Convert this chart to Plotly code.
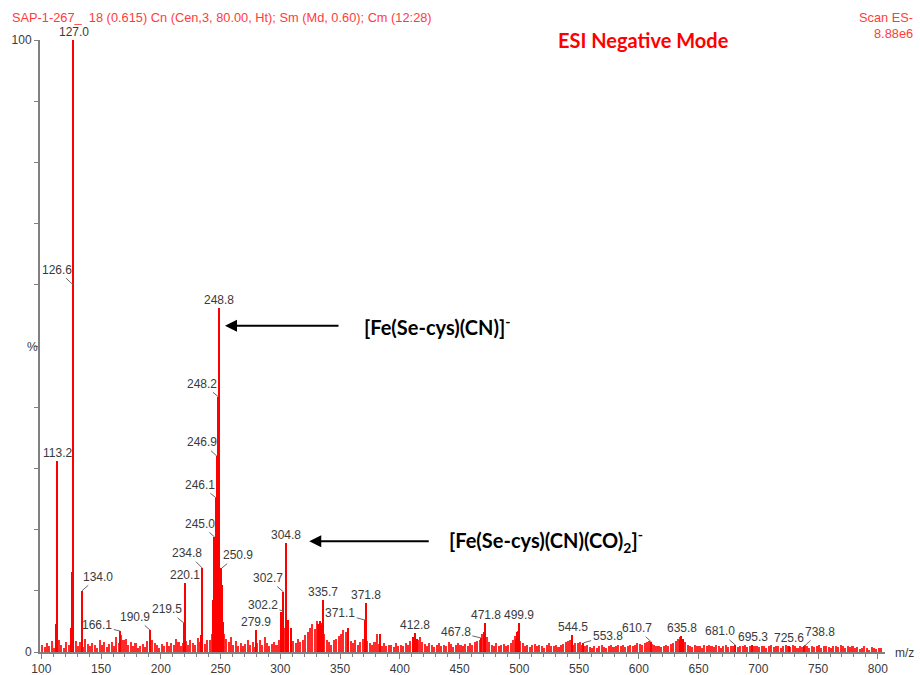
import numpy as np
import plotly.graph_objects as go

# ---------------- data ----------------
# labelled peaks (m/z, relative intensity %)
label_mz = [127.0, 126.6, 113.2, 134.0, 166.1, 190.9, 219.5, 220.1, 234.8, 245.0,
            246.1, 246.9, 248.2, 248.8, 250.9, 279.9, 302.2, 302.7, 304.8, 335.7,
            371.1, 371.8, 412.8, 467.8, 471.8, 499.9, 544.5, 553.8, 610.7, 635.8,
            681.0, 695.3, 725.6, 738.8]
label_int = [100.0, 60.0, 31.2, 10.0, 3.4, 3.6, 4.7, 11.3, 13.7, 18.8,
             25.2, 32.0, 41.7, 56.2, 13.7, 3.6, 6.7, 9.8, 17.8, 8.5,
             5.2, 8.0, 3.1, 2.3, 4.7, 4.7, 2.8, 1.5, 1.6, 2.6,
             1.1, 1.1, 1.0, 1.0]

# other visible (unlabelled) peaks
extra_mz = [112.8, 125.6, 124.8, 233.6, 243.7, 244.4, 249.4, 250.0, 251.6, 252.5,
            300.9, 306.4, 308.8, 331.5, 333.2, 334.4, 357.2, 383.5, 411.6, 414.2,
            470.6, 498.6, 497.3, 634.5, 636.8]
extra_int = [4.5, 13.0, 4.0, 2.7, 8.5, 6.5, 12.8, 12.5, 11.0, 4.9,
             6.5, 5.2, 4.0, 4.6, 5.0, 4.4, 3.9, 2.9, 2.4, 2.2,
             3.2, 3.2, 2.2, 2.0, 2.2]

# background noise, one value every 2 m/z from 101 to 803
noise_start, noise_step = 101, 2
noise_int = [
    1.2, 0.8, 1.5, 1.0, 1.8, 0.6, 1.3, 2.0, 1.1, 0.7, 1.6, 1.2, 0.9,
    1.4, 1.8, 1.0, 1.6, 0.8, 2.2, 1.3, 0.9, 1.5, 1.1, 0.7, 1.9,
    1.2, 1.6, 0.8, 1.3, 1.7, 1.0, 2.4, 1.5, 2.8, 1.9, 2.2, 1.1, 1.6,
    1.0, 1.5, 0.6, 0.9, 1.3, 0.8, 1.8, 1.2, 2.0, 1.4, 1.1, 0.7,
    1.3, 1.0, 1.7, 0.9, 1.5, 1.2, 2.1, 1.6, 1.0, 1.4, 1.8, 1.1, 2.0,
    1.5, 1.2, 2.3, 1.6, 1.9, 1.3, 2.0,
    2.0, 3.0, 4.0, 5.0, 6.0, 4.5, 3.0, 2.2, 1.6, 2.4,
    1.2, 1.8, 1.0, 1.5, 0.9, 1.3, 2.0, 1.1, 1.6, 0.8, 1.4, 1.9, 1.2, 2.4, 1.5, 1.0, 1.3, 1.7, 1.1, 2.0,
    3.0, 4.0, 2.5, 3.5, 2.0,
    1.8, 1.5, 2.2, 1.6, 2.0, 2.8, 3.2, 4.0, 4.5, 3.8, 5.0, 4.2, 4.8, 3.0, 2.0,
    1.6, 1.2, 1.9, 2.1, 2.6, 3.0, 3.6, 3.2, 2.4, 1.8, 1.5, 1.9, 1.2, 1.6, 2.2,
    2.4, 1.8, 1.4, 1.2, 1.6, 2.9, 1.3, 1.0, 1.5, 0.9, 1.2, 1.1, 0.8, 1.4, 1.0,
    1.2, 0.9, 1.4, 1.1, 1.8, 2.2, 2.6, 2.0, 2.4, 1.6, 1.3, 1.0, 1.5, 1.1, 0.8,
    1.1, 1.4, 0.9, 1.2, 1.0, 1.6, 1.3, 0.8, 1.1, 1.5, 1.2, 0.9, 1.3, 1.0, 1.4, 1.2, 1.6, 1.8, 2.0, 3.0,
    3.2, 2.4, 1.6, 1.2, 1.0, 1.4, 0.9, 1.1, 1.3, 1.0, 1.2, 1.5, 2.0, 2.6, 3.4,
    1.8, 1.4, 1.0, 1.2, 0.8, 1.1, 1.3, 0.9, 1.2, 1.0, 0.7, 1.1, 1.4, 0.9, 1.0, 1.2, 0.8, 1.1, 1.3, 1.6,
    1.8, 2.0, 1.2, 1.5, 1.4, 1.6, 1.2, 0.9, 1.1, 0.8, 0.6, 1.0, 0.7, 0.9, 1.2, 0.8, 0.6, 0.9, 1.1, 0.8,
    1.0, 1.2, 0.9, 1.1, 0.8, 1.0, 1.2, 0.9, 1.1, 1.4, 1.3, 1.1, 1.5, 1.6, 1.8, 1.3, 1.1, 0.9, 1.0, 0.8,
    0.9, 1.2, 1.0, 1.3, 1.5, 1.8, 2.2, 2.4, 2.0, 1.6, 1.2, 1.0, 0.8, 1.1, 0.9, 1.0, 0.7, 1.2, 0.9, 1.1,
    1.0, 0.8, 1.1, 0.9, 0.7, 1.0, 1.2, 0.8, 1.0, 0.9, 1.1, 0.8, 0.9, 1.0, 1.2, 0.8, 1.0, 0.7, 0.9, 1.0,
    0.8, 1.0, 0.9, 0.7, 1.0, 1.1, 0.8, 0.9, 1.0, 0.7, 0.9, 1.1, 1.0, 0.8, 1.2, 0.9, 0.7, 1.0, 0.8, 1.1,
    0.9, 0.7, 1.0, 0.8, 0.9, 1.1, 0.7, 1.0, 0.9, 0.8, 0.6, 0.9, 1.0, 0.8, 1.1, 0.9, 0.7, 1.0, 0.8, 0.9,
    0.6, 0.8, 0.5, 0.7, 0.9, 0.6, 0.4, 0.8, 0.6, 0.5, 0.7, 0.6,
]
noise_mz = noise_start + noise_step * np.arange(len(noise_int))

x_ticks = [100, 150, 200, 250, 300, 350, 400, 450, 500, 550, 600, 650, 700, 750, 800]
y_ticks = [0, 100]

header_text = "SAP-1-267_  18 (0.615) Cn (Cen,3, 80.00, Ht); Sm (Md, 0.60); Cm (12:28)"
mode_text = "ESI Negative Mode"
ion1_text = "[Fe(Se-cys)(CN)]<sup>-</sup>"
ion2_text = "[Fe(Se-cys)(CN)(CO)<sub>2</sub>]<sup>-</sup>"
ion1_tip = (253.7, 53.3)
ion2_tip = (324.2, 18.1)

# label leader-line offsets in pixels (None = label right above the peak)
offsets = {
    126.6: (-16, -15), 134.0: (16, -14), 166.1: (-23, -6), 190.9: (-15, -13),
    219.5: (-17, -14), 234.8: (-15, -15), 245.0: (-15, -13), 246.1: (-16, -13),
    246.9: (-15, -14), 248.2: (-16, -13), 250.9: (16, -13), 302.2: (-20, -6),
    302.7: (-16, -14), 371.1: (-25, -7), 467.8: (-25, -6), 553.8: (24, -7),
    610.7: (-15, -14), 681.0: (-16, -14), 738.8: (15, -14),
}

RED = "#ff0000"
TXT = "#3a3a3a"
AXC = "#808080"
FONT = "Liberation Sans, Arial, sans-serif"
BOLD = "Lato, Open Sans, sans-serif"

W, H = 920, 675
ml, mr, mt, mb = 40, 35, 40, 23
pw, ph = W - ml - mr, H - mt - mb

fig = go.Figure()
fig.add_trace(go.Bar(x=noise_mz, y=noise_int, width=1.3, marker=dict(color="#ff2a2a", line_width=0),
                     hoverinfo="skip"))
fig.add_trace(go.Bar(x=extra_mz, y=extra_int, width=1.2, marker=dict(color=RED, line_width=0)))
fig.add_trace(go.Bar(x=label_mz, y=label_int, width=1.3, marker=dict(color=RED, line_width=0)))

for mz, it in zip(label_mz, label_int):
    txt = f"{mz:.1f}"
    if mz in offsets:
        ax, ay = offsets[mz]
        fig.add_annotation(x=mz, y=it, xref="x", yref="y", text=txt, showarrow=True,
                           arrowhead=0, arrowwidth=1, arrowcolor="#666666", ax=ax, ay=ay,
                           standoff=0, font=dict(family=FONT, size=12, color=TXT))
    else:
        fig.add_annotation(x=mz, y=it, xref="x", yref="y", text=txt, showarrow=False,
                           yanchor="bottom", xanchor="center", yshift=-1,
                           font=dict(family=FONT, size=12, color=TXT))

# ion labels with black arrows pointing at the peaks
fig.add_annotation(x=ion1_tip[0], y=ion1_tip[1], xref="x", yref="y", text=ion1_text, showarrow=True,
                   arrowhead=2, arrowsize=1.2, arrowwidth=2, arrowcolor="black", ax=212, ay=0,
                   startstandoff=24, font=dict(family=BOLD, size=20, color="black", weight="bold"))
fig.add_annotation(x=ion2_tip[0], y=ion2_tip[1], xref="x", yref="y", text=ion2_text, showarrow=True,
                   arrowhead=2, arrowsize=1.2, arrowwidth=2, arrowcolor="black", ax=237, ay=0,
                   startstandoff=19, font=dict(family=BOLD, size=20, color="black", weight="bold"))


def pap(X, Y):
    # page pixel -> paper coords of plot area
    return (X - ml) / pw, 1 - (Y - mt) / ph


extra = [
    (10, 18, header_text, "left", dict(family=FONT, size=12.8, color="#ff3c3c")),
    (915, 18, "Scan ES-", "right", dict(family=FONT, size=12.8, color="#ff3c3c")),
    (915, 33, "8.88e6", "right", dict(family=FONT, size=12.8, color="#ff3c3c")),
    (643, 40, mode_text, "center", dict(family=BOLD, size=20, color="#ff0000", weight="bold")),
    (32, 347, "%", "center", dict(family=FONT, size=12, color=TXT)),
    (905, 653, "m/z", "center", dict(family=FONT, size=12, color=TXT)),
]
for X, Y, t, xa, f in extra:
    xx, yy = pap(X, Y)
    fig.add_annotation(x=xx, y=yy, xref="paper", yref="paper", text=t, showarrow=False,
                       xanchor=xa, yanchor="middle", font=f)

fig.update_layout(
    width=W, height=H,
    margin=dict(l=ml, r=mr, t=mt, b=mb),
    paper_bgcolor="white", plot_bgcolor="white",
    barmode="overlay", showlegend=False, bargap=0,
    xaxis=dict(range=[98.9, 806.0], tickvals=x_ticks, ticks="outside", ticklen=5, tickwidth=1,
               tickcolor=AXC, showline=True, linecolor=AXC, linewidth=1.5, showgrid=False,
               zeroline=False, automargin=False, tickfont=dict(family=FONT, size=12, color=TXT),
               minor=dict(dtick=10, tick0=100, ticks="outside", ticklen=3, tickcolor=AXC)),
    yaxis=dict(range=[0, 100], tickvals=y_ticks, ticks="outside", ticklen=4,
               tickwidth=1, tickcolor=AXC, showline=True, linecolor=AXC, linewidth=2, showgrid=False,
               zeroline=False, automargin=False, tickfont=dict(family=FONT, size=12, color=TXT),
               minor=dict(dtick=10, tick0=0, ticks="outside", ticklen=4, tickcolor=AXC)),
)

fig.write_html("out.html")
